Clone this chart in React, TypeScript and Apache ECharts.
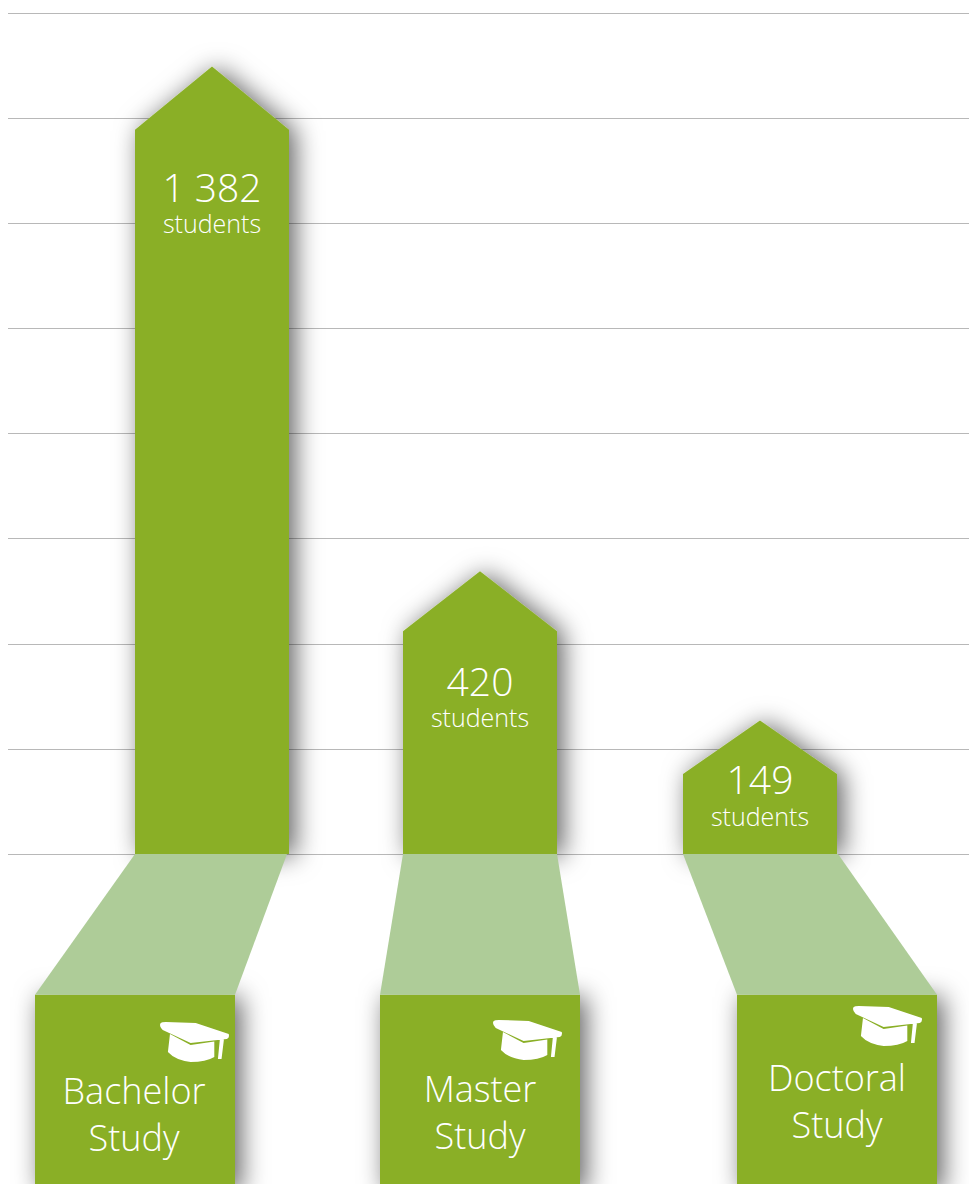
import React, { useEffect, useRef } from "react";
import * as echarts from "echarts";

// Data
const categoriesTop = ["Bachelor", "Master", "Doctoral"];
const categoriesBottom = ["Study", "Study", "Study"];
const studentCounts = ["1 382", "420", "149"];
const unitLabel = "students";
// bar heights in grid steps (the drawn heights are pictographic)
const tipLevels = [7.49, 2.69, 1.27];
const shoulderLevels = [6.89, 2.12, 0.76];
// horizontal extents of the columns and the name boxes, on a pixel-scale x axis
const barLeft = [135, 403, 683];
const barRight = [289, 557, 837];
const boxLeft = [35, 380, 737];
const boxRight = [235, 580, 937];
const boxTopLevel = [-1.34, -1.34, -1.34];
const boxBottomLevel = [-3.2, -3.2, -3.2];

// Layout and style
const GREEN = "#8AAF27";
const LIGHT = "#AECC98";
const GRID = "#B8B8B8";
const FONT = "'Open Sans', 'Noto Sans', sans-serif";
const trapOffset = [-2, 0, 1];
const countY = [186, 680, 778];
const unitY = [223, 717, 816];
const nameY1 = [1090, 1088, 1077];
const nameY2 = [1137, 1135, 1124];
const capX = [160, 493, 853];
const capY = [1022, 1020, 1006];
const CAP =
  "M31,23 Q32,22 36,22 L65,23 L97,34 Q98,38 95,39 L60,43 L33,30 Q29,26 31,23 Z " +
  "M40,34 L60,45 L83,41.5 L83,57 Q75,62 60,62 Q45,60 38,52 Z " +
  "M88.5,38 L92.5,38 L90,59 L86.5,59 Z";

const idx = [0, 1, 2];
const shadow = {
  shadowBlur: 26,
  shadowColor: "rgba(0,0,0,0.62)",
  shadowOffsetX: 6,
  shadowOffsetY: 2,
};

export default function App() {
  const ref = useRef<HTMLDivElement>(null);
  useEffect(() => {
    const chart = echarts.init(ref.current!, undefined, { renderer: "svg" });
    const rows = idx.map((i) => [
      barLeft[i],
      barRight[i],
      tipLevels[i],
      shoulderLevels[i],
      boxLeft[i],
      boxRight[i],
      boxTopLevel[i],
      boxBottomLevel[i],
      i,
    ]);
    const enc = { x: [0, 1, 4, 5], y: [2, 3, 6, 7] };
    const text = (x: number, y: number, t: string, size: number) => ({
      type: "text",
      x,
      y,
      style: {
        text: t,
        fill: "#fff",
        fontSize: size,
        fontWeight: 300,
        fontFamily: FONT,
        lineHeight: Math.round(size * 0.8),
        align: "center",
        verticalAlign: "middle",
      },
    });
    chart.setOption({
      animation: false,
      grid: { left: 8, top: 13, width: 961, height: 841 },
      xAxis: {
        type: "value",
        min: 8,
        max: 969,
        show: false,
      },
      yAxis: {
        type: "value",
        min: 0,
        max: 8,
        interval: 1,
        axisLine: { show: false },
        axisTick: { show: false },
        axisLabel: { show: false },
        splitLine: { show: true, lineStyle: { color: GRID, width: 1 } },
      },
      series: [
        {
          type: "custom",
          z: 2,
          data: rows,
          encode: enc,
          clip: false,
          renderItem: (_p: any, api: any) => {
            const [l, tipY] = api.coord([api.value(0), api.value(2)]);
            const [r, shY] = api.coord([api.value(1), api.value(3)]);
            const [, baseY] = api.coord([0, 0]);
            return {
              type: "polygon",
              shape: {
                points: [
                  [l, baseY],
                  [l, shY],
                  [(l + r) / 2, tipY],
                  [r, shY],
                  [r, baseY],
                ],
              },
              style: { fill: GREEN, ...shadow },
            };
          },
        },
        {
          type: "custom",
          z: 3,
          data: rows,
          encode: enc,
          clip: false,
          renderItem: (_p: any, api: any) => {
            const [l, t] = api.coord([api.value(4), api.value(6)]);
            const [r, b] = api.coord([api.value(5), api.value(7)]);
            return {
              type: "rect",
              shape: { x: l, y: t, width: r - l, height: b - t },
              style: { fill: GREEN, ...shadow },
            };
          },
        },
        {
          type: "custom",
          z: 4,
          data: rows,
          encode: enc,
          clip: false,
          renderItem: (_p: any, api: any) => {
            const i = api.value(8);
            const [bl, baseY] = api.coord([api.value(0), 0]);
            const [br] = api.coord([api.value(1), 0]);
            const [tl, topY] = api.coord([api.value(4), api.value(6)]);
            const [tr] = api.coord([api.value(5), 0]);
            return {
              type: "polygon",
              shape: {
                points: [
                  [bl, baseY],
                  [br + trapOffset[i], baseY],
                  [tr, topY],
                  [tl, topY],
                ],
              },
              style: { fill: LIGHT },
            };
          },
        },
        {
          type: "custom",
          z: 5,
          data: rows,
          encode: enc,
          clip: false,
          renderItem: (_p: any, api: any) => {
            const i = api.value(8);
            const barC = (barLeft[i] + barRight[i]) / 2;
            const boxC = (boxLeft[i] + boxRight[i]) / 2;
            return {
              type: "group",
              children: [
                text(barC, countY[i], studentCounts[i], 39),
                text(barC, unitY[i], unitLabel, 25),
                text(boxC - (i === 0 ? 1 : 0), nameY1[i], categoriesTop[i], 36),
                text(boxC - (i === 0 ? 1 : 0), nameY2[i], categoriesBottom[i], 36),
                {
                  type: "path",
                  shape: {
                    pathData: CAP,
                    x: capX[i],
                    y: capY[i],
                    width: 69,
                    height: 40,
                    layout: "cover",
                  },
                  style: { fill: "#fff" },
                },
              ],
            };
          },
        },
      ],
    });
    return () => chart.dispose();
  }, []);
  return (
    <div
      ref={ref}
      style={{ position: "absolute", left: 0, top: 0, width: 969, height: 1184, overflow: "hidden", background: "#fff" }}
    />
  );
}
